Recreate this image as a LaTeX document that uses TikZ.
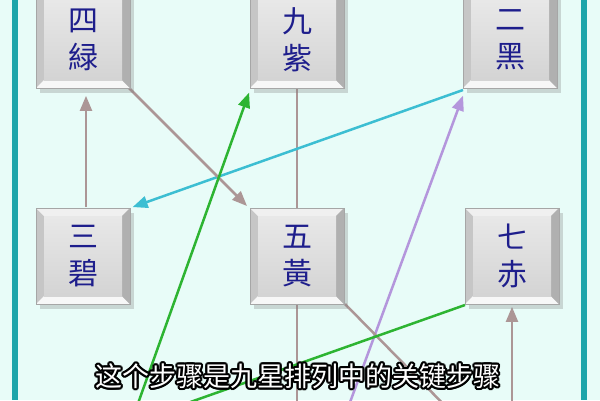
\documentclass[tikz,border=0pt]{standalone}
\usepackage{fontspec}
\newfontfamily\cjk{Noto Sans CJK TC}
\newfontfamily\cjksc{Noto Sans CJK SC}
\usetikzlibrary{positioning,arrows,shadows}
\definecolor{mintbg}{RGB}{232,252,248}
\definecolor{tealrule}{RGB}{30,165,170}
\definecolor{linkbrown}{RGB}{172,150,150}
\definecolor{linkgreen}{RGB}{45,180,50}
\definecolor{linkcyan}{RGB}{60,190,210}
\definecolor{linkviolet}{RGB}{180,150,220}
\definecolor{keyink}{RGB}{30,30,140}
\tikzset{
  starkey/.style={minimum width=94pt, minimum height=96pt, inner sep=0pt,
    draw=gray!70, fill=gray!45, align=center, text=keyink,
    font=\cjk\fontsize{30}{37}\selectfont,
    drop shadow={shadow xshift=4pt, shadow yshift=-5pt, opacity=0.3},
    path picture={
      \fill[white!88!gray] (path picture bounding box.north west) -- (path picture bounding box.north east)
        -- ([xshift=-8pt,yshift=-8pt]path picture bounding box.north east) -- ([xshift=8pt,yshift=-8pt]path picture bounding box.north west) -- cycle;
      \fill[white!94!gray] (path picture bounding box.south west) -- (path picture bounding box.south east)
        -- ([xshift=-8pt,yshift=8pt]path picture bounding box.south east) -- ([xshift=8pt,yshift=8pt]path picture bounding box.south west) -- cycle;
      \fill[gray!62] (path picture bounding box.north east) -- (path picture bounding box.south east)
        -- ([xshift=-8pt,yshift=8pt]path picture bounding box.south east) -- ([xshift=-8pt,yshift=-8pt]path picture bounding box.north east) -- cycle;
      \shade[top color=gray!18, bottom color=gray!34] ([xshift=8pt,yshift=8pt]path picture bounding box.south west) rectangle ([xshift=-8pt,yshift=-8pt]path picture bounding box.north east);
    }},
  brownlink/.style={line width=2.5pt, draw=linkbrown, shorten >=3pt},
  greenlink/.style={line width=2.5pt, draw=linkgreen, shorten >=3pt},
  cyanlink/.style={line width=2.5pt, draw=linkcyan, shorten >=3pt},
  violetlink/.style={line width=2.5pt, draw=linkviolet, shorten >=3pt},
  caption/.style={font=\cjksc\fontsize{27}{30}\selectfont}
}
\begin{document}
\begin{tikzpicture}[x=1pt, y=-1pt, >={triangle 45[scale=1.3]}]
  \useasboundingbox (0,0) rectangle (600,400);
  \clip (0,0) rectangle (600,400);
  \fill[mintbg] (0,0) rectangle (600,400);
  \draw[tealrule, line width=6pt] (15,0) -- (15,400);
  \draw[tealrule, line width=6pt] (584,0) -- (584,400);
  %
  % stars of the bottom row lie below the frame
  \coordinate (s8) at (131,423);
  \coordinate (s1) at (297,424);
  \coordinate (s1ne) at (342,424);
  \coordinate (s6) at (463,424);
  \coordinate (s6n) at (512,424);
  \coordinate (s4) at (83,40);
  \coordinate (s9) at (297,40);
  \coordinate (s2) at (510,40);
  \coordinate (s3) at (83,256);
  \coordinate (s5) at (297,256);
  \coordinate (s7) at (512,256);
  %
  % flight of the stars
  \draw[brownlink] (297,88) -- (s1);
  \draw[violetlink,->] (s1ne) -- (464,93);
  \draw[cyanlink,->] (463,90) -- (130,208);
  \draw[brownlink,->,shorten >=8pt] (86,207) -- (86,88);
  \draw[brownlink,->] (129,88) -- (249,208);
  \draw[brownlink] (345,304) -- (s6);
  \draw[brownlink,->] (s6n) -- (512,304);
  \draw[greenlink] (465,305) -- (s8);
  \draw[greenlink,->] (s8) -- (250,90);
  %
  \node[starkey] (k4) at (s4) {四\\緑};
  \node[starkey] (k9) at (s9) {九\\紫};
  \node[starkey] (k2) at (s2) {二\\黑};
  \node[starkey] (k3) at (s3) {三\\碧};
  \node[starkey] (k5) at (s5) {五\\黃};
  \node[starkey] (k7) at (s7) {七\\赤};
  %
  \foreach \a in {0,30,...,330}
    \node[caption, text=black] at ([shift={(\a:2)}]298,376) {这个步骤是九星排列中的关键步骤};
  \node[caption, text=white] (cap) at (298,376) {这个步骤是九星排列中的关键步骤};
\end{tikzpicture}
\end{document}
